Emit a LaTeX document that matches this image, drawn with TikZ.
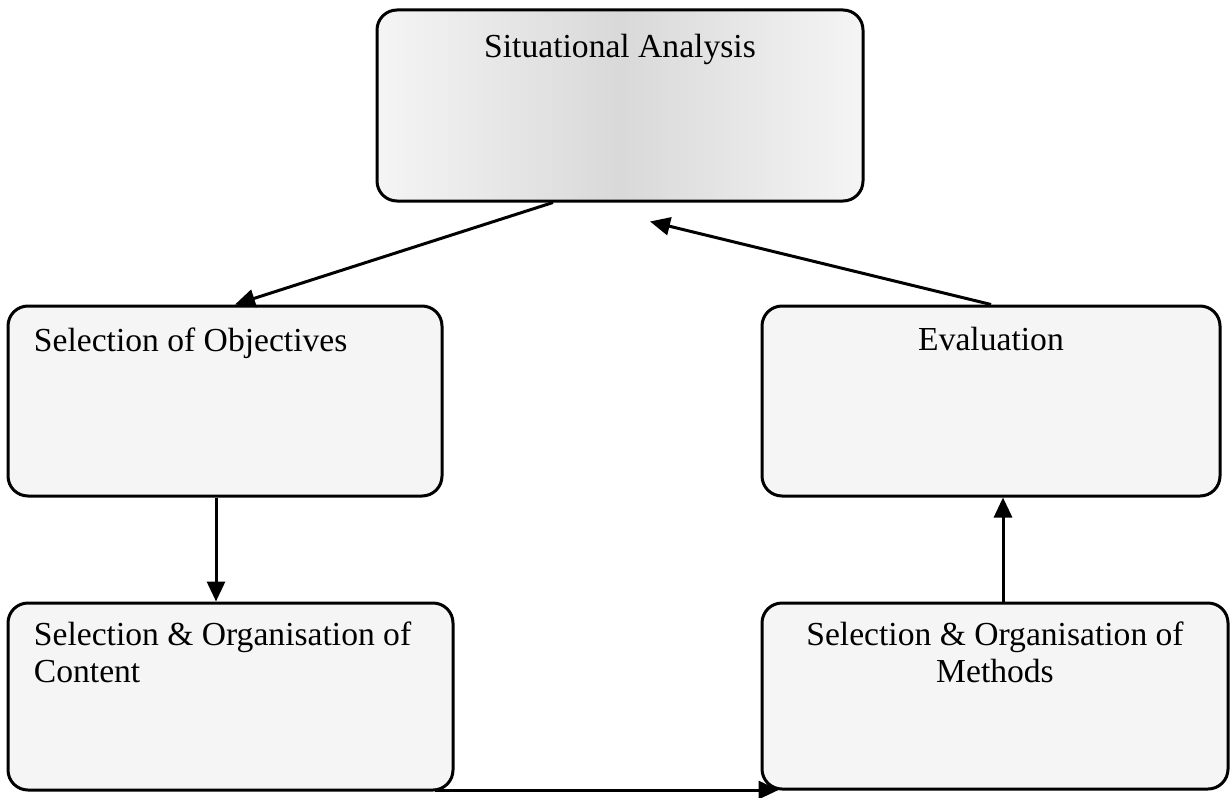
\documentclass[tikz,border=0pt]{standalone}
\usepackage{fontspec}
\setmainfont{Liberation Serif}
\usetikzlibrary{arrows.meta}
\tikzstyle{stage}=[rectangle, rounded corners=10pt, draw, line width=1.5pt, fill=gray!8, inner sep=0pt]
\tikzstyle{stagetxt}=[inner sep=0pt, align=left, font=\fontsize{16.8}{18.5}\selectfont]
\tikzstyle{flow}=[line width=1.5pt, -{Triangle[length=10pt,width=9pt]}]

\begin{document}
\begin{tikzpicture}[x=0.5pt, y=-0.5pt]
\useasboundingbox (0,0) rectangle (1230,797);

% boxes
\node[stage, minimum width=243pt, minimum height=95.5pt, left color=gray!8, right color=gray!8, middle color=gray!30] (sit) at (620,105.5) {};
\node[stage, minimum width=217pt, minimum height=95pt] (obj) at (225,401) {};
\node[stage, minimum width=229pt, minimum height=95pt] (eva) at (991,401) {};
\node[stage, minimum width=222.5pt, minimum height=93.5pt] (con) at (230.5,696.5) {};
\node[stage, minimum width=233pt, minimum height=93pt] (met) at (995,696) {};

% texts
\node[stagetxt, anchor=base] (sittxt) at ([yshift=-24.5pt]sit.north) {Situational Analysis};
\node[stagetxt, anchor=base west] (objtxt) at ([shift={(13.5pt,-23.5pt)}]obj.north west) {Selection of Objectives};
\node[stagetxt, anchor=base] (evatxt) at ([yshift=-23pt]eva.north) {Evaluation};
\node[stagetxt, anchor=base west] (contxt) at ([shift={(13.5pt,-40.5pt)}]con.north west) {Selection \& Organisation of\\Content};
\node[stagetxt, anchor=base, align=center] (mettxt) at ([yshift=-40.5pt]met.north) {Selection \& Organisation of\\Methods};

% arrows
\coordinate (sitin) at ([shift={(15pt,-9.5pt)}]sit.south);
\draw[flow] ([xshift=-33.5pt]sit.south) -- ([xshift=5pt]obj.north);
\draw[flow] (eva.north) -- (sitin);
\draw[flow] ([xshift=-4.5pt]obj.south) -- ([xshift=-4.5pt]obj.south |- con.north);
\draw[flow] ([xshift=4pt]met.north) -- ([xshift=4pt]met.north |- eva.south);
\draw[flow] ([shift={(-10pt,0.75pt)}]con.south east) -- ([shift={(9pt,0.75pt)}]con.south east -| met.south west);

\end{tikzpicture}
\end{document}
